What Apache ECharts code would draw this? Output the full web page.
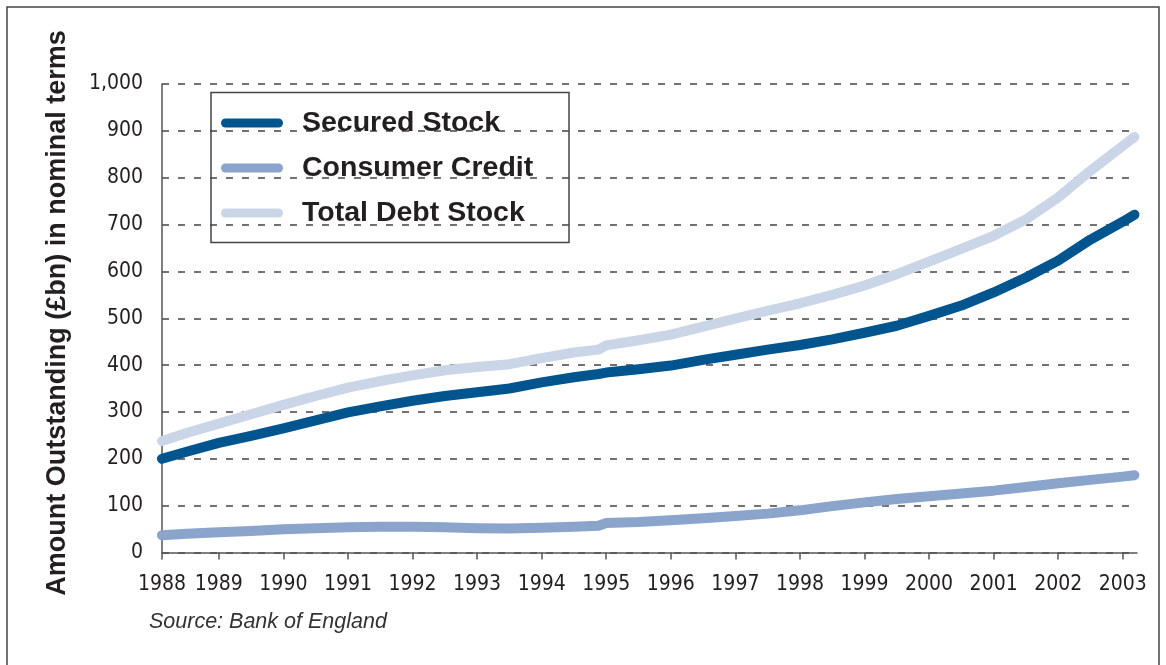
<!DOCTYPE html>
<html>
<head>
<meta charset="utf-8">
<script src="https://cdn.jsdelivr.net/npm/echarts@6/dist/echarts.min.js"></script>
<style>
  html, body { margin: 0; padding: 0; background: #fff; }
  #chart { width: 1166px; height: 665px; }
</style>
</head>
<body>
<div id="chart"></div>
<script>
// time points (decimal years)
var years = [1988.12, 1988.5, 1989.0, 1989.5, 1990.0, 1990.5, 1991.0, 1991.5, 1992.0, 1992.5,
  1993.0, 1993.5, 1994.0, 1994.5, 1994.88, 1995.0, 1995.5, 1996.0, 1996.5, 1997.0, 1997.5,
  1998.0, 1998.5, 1999.0, 1999.5, 2000.0, 2000.5, 2001.0, 2001.5, 2002.0, 2002.5, 2003.0, 2003.18];

var securedStock = [200, 215, 234, 249, 265, 282, 299, 312, 324, 334,
  342, 350, 363, 374, 381, 384, 391, 399, 411, 422, 433,
  443, 455, 469, 484, 505, 527, 555, 587, 623, 668, 706, 721];

var consumerCredit = [37, 40, 43, 46, 49.5, 52, 54, 55, 55, 54,
  52, 51, 53, 55, 57, 63, 65, 69, 73, 78, 83,
  90, 99, 107, 114, 120, 126, 132, 140, 148, 155, 162, 165];

var totalDebtStock = [238, 255, 275, 295, 315, 334, 352, 366, 378, 389,
  396, 402, 415, 427, 433, 442, 453, 465, 482, 499, 516,
  532, 550, 570, 594, 621, 648, 676, 711, 758, 815, 868, 887];

var xTicks = [1988.12, 1989, 1990, 1991, 1992, 1993, 1994, 1995, 1996, 1997, 1998, 1999, 2000, 2001, 2002, 2003];

var seriesNames = ['Secured Stock', 'Consumer Credit', 'Total Debt Stock'];
var seriesColors = ['#00558f', '#8aa4cc', '#cbd5e8'];

function pairs(vals) {
  return years.map(function (y, i) { return [y, vals[i]]; });
}

var chart = echarts.init(document.getElementById('chart'));
var labelFont = '"Liberation Sans Narrow", "DejaVu Sans Condensed", "Liberation Sans", sans-serif';
var capsule = 'path://M4.5,0 L57.5,0 A4.5,4.5 0 0 1 57.5,9 L4.5,9 A4.5,4.5 0 0 1 4.5,0 Z';

var option = {
  backgroundColor: '#fff',
  animation: false,
  grid: { left: 162, right: 29, top: 84, bottom: 112.5, containLabel: false },
  legend: {
    orient: 'vertical',
    left: 221,
    top: 108,
    itemWidth: 62,
    itemHeight: 9,
    itemGap: 15,
    padding: 0,
    textStyle: {
      fontFamily: '"Liberation Sans", Arial, sans-serif',
      fontWeight: 'bold',
      fontSize: 28.5,
      lineHeight: 30,
      color: '#231f20',
      padding: [0, 0, 0, 14]
    },
    data: seriesNames.map(function (n) { return { name: n, icon: capsule }; })
  },
  xAxis: {
    type: 'value',
    min: 1988.12,
    max: 2003.22,
    axisLine: { lineStyle: { color: '#555', width: 1.5 } },
    axisTick: { show: true, customValues: xTicks, length: 7, lineStyle: { color: '#555', width: 1.5 } },
    axisLabel: {
      customValues: xTicks,
      margin: 22,
      fontFamily: labelFont,
      fontSize: 21,
      color: '#231f20',
      formatter: function (v) { return v < 1989 ? '1988' : String(Math.round(v)); }
    },
    splitLine: { show: false }
  },
  yAxis: {
    type: 'value',
    min: 0,
    max: 1000,
    interval: 100,
    axisLine: { show: true, lineStyle: { color: '#555', width: 1.5 } },
    axisTick: { show: false },
    axisLabel: {
      margin: 19,
      fontFamily: labelFont,
      fontSize: 21,
      color: '#231f20',
      formatter: function (v) { return v >= 1000 ? '1,000' : String(v); }
    },
    splitLine: { show: true, lineStyle: { color: '#444', width: 1.5, type: [7, 9] } }
  },
  series: [
    { name: seriesNames[0], data: pairs(securedStock) },
    { name: seriesNames[1], data: pairs(consumerCredit) },
    { name: seriesNames[2], data: pairs(totalDebtStock) }
  ].map(function (s, i) {
    return {
      name: s.name,
      type: 'line',
      data: s.data,
      showSymbol: false,
      symbol: 'none',
      clip: false,
      color: seriesColors[i],
      lineStyle: { width: 10, color: seriesColors[i], cap: 'round', join: 'round' }
    };
  }),
  graphic: [
    {
      type: 'rect',
      shape: { x: 7, y: 7, width: 1152, height: 680 },
      style: { fill: 'none', stroke: '#444', lineWidth: 1.5 },
      silent: true
    },
    {
      type: 'rect',
      shape: { x: 211, y: 92.5, width: 358, height: 150 },
      style: { fill: '#fff', stroke: '#444', lineWidth: 1.5 },
      z: -1,
      silent: true
    },
    {
      type: 'text',
      x: 58,
      y: 313,
      rotation: Math.PI / 2,
      style: {
        text: 'Amount Outstanding (£bn) in nominal terms',
        fontFamily: '"Liberation Sans", Arial, sans-serif',
        fontWeight: 'bold',
        fontSize: 27,
        fill: '#231f20',
        align: 'center',
        verticalAlign: 'middle'
      }
    },
    {
      type: 'text',
      x: 149,
      y: 622,
      style: {
        text: 'Source: Bank of England',
        fontFamily: '"Liberation Sans", Arial, sans-serif',
        fontStyle: 'italic',
        fontSize: 21.5,
        fill: '#333',
        align: 'left',
        verticalAlign: 'middle'
      }
    }
  ]
};

chart.setOption(option);
</script>
</body>
</html>
